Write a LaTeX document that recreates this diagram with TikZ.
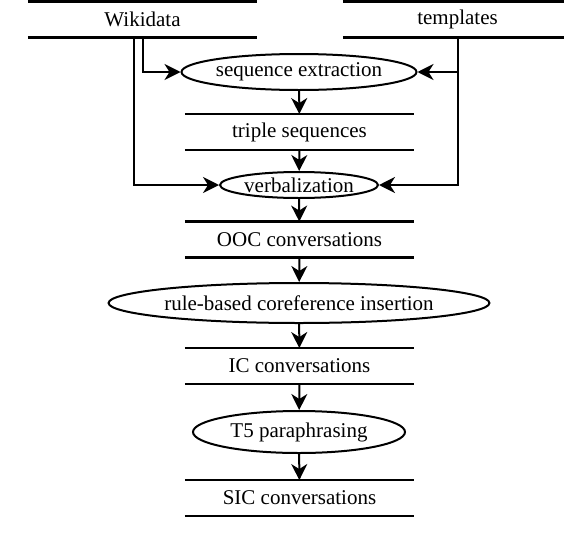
\documentclass[tikz,border=0pt]{standalone}
\usepackage{fontspec}
\setmainfont{Liberation Serif}
\usetikzlibrary{shapes.geometric,arrows.meta}
\begin{document}
\begin{tikzpicture}[x=1pt,y=-1pt,
  every node/.style={font=\fontsize{21}{24}\selectfont, inner sep=0pt},
  store/.style={minimum width=229pt, minimum height=35.5pt},
  proc/.style={ellipse, draw, line width=2pt},
  ln/.style={line width=2.2pt},
  arr/.style={line width=2pt, -{Stealth[length=16pt,width=16pt,inset=5pt]}}]
\useasboundingbox (0,0) rectangle (564,546);
\clip (0,0) rectangle (564,546);
% data stores
\node[store] (wiki)   at (142.5,19.5) {Wikidata};
\node[store] (tmpl)   at (457.5,19.5) {templates};
\node[store] (triple) at (299.5,132)  {triple sequences};
\node[store] (ooc)    at (299.5,239.5){OOC conversations};
\node[store] (ic)     at (299.5,366)  {IC conversations};
\node[store] (sic)    at (299.5,498)  {SIC conversations};
\foreach \n in {wiki,tmpl,triple,ooc,ic,sic}{
  \draw[ln] (\n.north west) -- (\n.north east);
  \draw[ln] (\n.south west) -- (\n.south east);
}
% processes
\node[proc, minimum width=228pt, minimum height=36pt] (seq)  at (299,72)  {sequence extraction};
\node[proc, minimum width=158pt, minimum height=26pt] (verb) at (299,185) {verbalization};
\node[proc, minimum width=350pt, minimum height=40pt] (rule) at (299,303) {rule-based coreference insertion};
\node[proc, minimum width=212pt, minimum height=42pt] (tfive) at (299,432) {T5 paraphrasing};
% connectors
\draw[arr] (wiki.south) |- (seq.west);
\draw[arr] ([xshift=-9pt]wiki.south) |- (verb.west);
\draw[arr] (tmpl.south) |- (seq.east);
\draw[arr] (tmpl.south) |- (verb.east);
\draw[arr] (seq) -- (triple);
\draw[arr] (triple) -- (verb);
\draw[arr] (verb) -- (ooc);
\draw[arr] (ooc) -- (rule);
\draw[arr] (rule) -- (ic);
\draw[arr] (ic) -- (tfive);
\draw[arr] (tfive) -- (sic);
\end{tikzpicture}
\end{document}
